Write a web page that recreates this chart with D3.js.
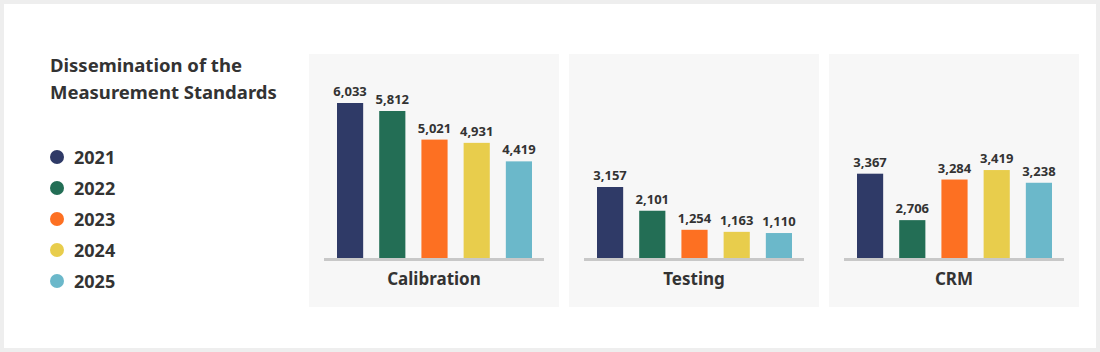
<!DOCTYPE html>
<html><head><meta charset="utf-8">
<script src="https://cdn.jsdelivr.net/npm/d3@7"></script>
<style>
html,body{margin:0;padding:0;background:#eeeeee;}
svg{display:block;font-family:"Segoe UI","Noto Sans",sans-serif;}
</style></head>
<body>
<svg id="c" width="1100" height="352"></svg>
<script>
const years = ["2021","2022","2023","2024","2025"];
const categories = ["Calibration","Testing","CRM"];
const calibration = [6033,5812,5021,4931,4419];
const testing = [3157,2101,1254,1163,1110];
const crm = [3367,2706,3284,3419,3238];
const titleLines = ["Dissemination of the","Measurement Standards"];

const colors = ["#2f3a67","#236e55","#fd7022","#e8cd4c","#6bb8ca"];
const series = [calibration, testing, crm];
// per-panel value-axis domains [low, high] and the pixel height of the high value
const panelScales = [
  {domain:[1747,6033], h:155},
  {domain:[0,3157], h:71},
  {domain:[2167,3367], h:84.3}
];

const svg = d3.select("#c");
svg.append("rect").attr("x",4).attr("y",4).attr("width",1092).attr("height",344).attr("fill","#ffffff");

// Title
const title = svg.append("text").attr("x",50).attr("y",72).attr("fill","#333333")
  .attr("font-size",18.5).attr("font-weight",700);
titleLines.forEach((t,i)=>title.append("tspan").attr("x",50).attr("dy",i?27:0).text(t));

// Legend
const leg = svg.append("g");
years.forEach((y,i)=>{
  const cy = 157 + i*31;
  leg.append("circle").attr("cx",57).attr("cy",cy).attr("r",7).attr("fill",colors[i]);
  leg.append("text").attr("x",74).attr("y",cy+6.5).attr("font-size",18).attr("font-weight",700)
    .attr("fill","#333333").text(y);
});

const baseY = 258;
categories.forEach((cat,pi)=>{
  const px = 309 + pi*260, py = 54;
  const g = svg.append("g").attr("transform",`translate(${px},0)`);
  g.append("rect").attr("x",0).attr("y",py).attr("width",250).attr("height",253).attr("fill","#f7f7f7");
  const x = d3.scaleBand().domain(years).range([28,223]).paddingInner(0.38).paddingOuter(0);
  const ps = panelScales[pi];
  const y = d3.scaleLinear().domain(ps.domain).range([baseY, baseY - ps.h]);
  const vals = series[pi];
  g.selectAll("rect.bar").data(vals).enter().append("rect").attr("class","bar")
    .attr("x",(d,i)=>x(years[i])).attr("width",x.bandwidth())
    .attr("y",d=>y(d)).attr("height",d=>baseY - y(d))
    .attr("fill",(d,i)=>colors[i]);
  g.selectAll("text.val").data(vals).enter().append("text").attr("class","val")
    .attr("x",(d,i)=>x(years[i])+x.bandwidth()/2).attr("y",d=>y(d)-7)
    .attr("text-anchor","middle").attr("font-size",13).attr("font-weight",700).attr("fill","#333333")
    .text(d=>d3.format(",")(d));
  g.append("rect").attr("x",15).attr("y",baseY).attr("width",220).attr("height",3).attr("fill","#c8c8c8");
  g.append("text").attr("x",125).attr("y",285).attr("text-anchor","middle").attr("font-size",17)
    .attr("font-weight",700).attr("fill","#333333").text(cat);
});
</script>
</body></html>
